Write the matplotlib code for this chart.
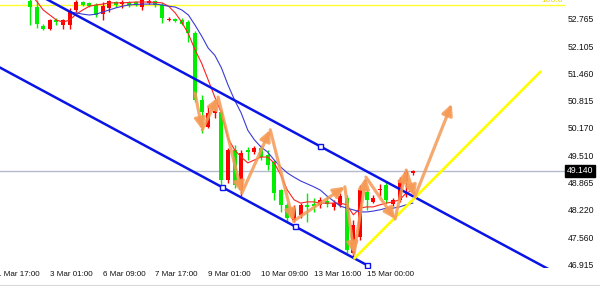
import numpy as np
import matplotlib.pyplot as plt

plt.rcParams['font.family'] = ['Liberation Sans', 'DejaVu Sans']

# H4 candles, bar 0 = first visible bar
opens = [53.20, 53.05, 52.60, 52.53, 52.74, 52.62, 52.62, 52.98, 53.17, 53.15,
         53.10, 52.88, 53.03, 53.17, 53.12, 53.17, 53.17, 53.05, 53.15, 53.19,
         53.10, 52.74, 52.76, 52.74, 52.69, 52.43, 50.83, 50.19, 50.52, 50.55,
         48.92, 49.64, 48.68, 49.64, 49.59, 49.69, 49.52, 49.35, 48.68, 48.33,
         47.97, 48.09, 48.33, 48.35, 48.33, 48.42, 48.28, 48.33, 48.49, 47.18,
         47.56, 48.64, 48.40, 48.68, 48.80, 48.35, 48.45, 48.90, 49.10]
highs = [53.30, 53.22, 52.64, 52.76, 52.79, 52.77, 53.03, 53.22, 53.20, 53.18,
         53.15, 53.17, 53.22, 53.20, 53.22, 53.20, 53.20, 53.25, 53.23, 53.22,
         53.15, 52.81, 52.79, 52.79, 52.74, 52.47, 50.95, 50.69, 50.64, 50.60,
         49.69, 49.76, 49.64, 49.71, 49.74, 49.76, 49.64, 49.40, 48.71, 48.38,
         48.33, 48.38, 48.61, 48.49, 48.52, 48.54, 48.45, 48.61, 48.56, 47.97,
         48.80, 48.73, 48.56, 48.83, 48.87, 48.49, 48.99, 49.16, 49.15]
lows = [52.62, 52.55, 52.50, 52.50, 52.62, 52.53, 52.53, 52.93, 53.07, 53.04,
        52.81, 52.74, 52.93, 53.06, 53.03, 53.06, 53.08, 52.98, 53.12, 53.05,
        52.67, 52.72, 52.69, 52.62, 52.22, 50.78, 50.04, 50.16, 50.40, 48.80,
        48.85, 48.73, 48.54, 49.40, 49.55, 49.40, 49.16, 48.45, 48.16, 47.92,
        47.92, 48.02, 47.92, 48.16, 48.25, 48.28, 48.21, 48.28, 47.18, 47.06,
        47.49, 48.21, 48.37, 48.54, 48.37, 48.30, 48.40, 48.52, 49.05]
closes = [53.05, 52.65, 52.53, 52.74, 52.69, 52.74, 52.95, 53.17, 53.10, 53.08,
          52.86, 53.08, 53.19, 53.10, 53.17, 53.10, 53.12, 53.21, 53.19, 53.10,
          52.79, 52.76, 52.72, 52.65, 52.43, 50.83, 50.55, 50.52, 50.57, 48.92,
          49.64, 48.80, 49.57, 49.59, 49.69, 49.47, 49.28, 48.61, 48.33, 48.02,
          48.25, 48.33, 48.28, 48.30, 48.45, 48.35, 48.37, 48.54, 47.25, 47.85,
          48.68, 48.45, 48.49, 48.71, 48.45, 48.45, 48.92, 49.11, 49.14]

# moving averages
ma_fast_start = 0
ma_fast = [53.35, 53.19, 52.98, 52.86, 52.74, 52.69, 52.74, 52.88, 52.98, 53.07,
           53.10, 53.12, 53.15, 53.15, 53.15, 53.16, 53.17, 53.17, 53.17, 53.16,
           53.15, 53.07, 52.91, 52.69, 52.41, 52.03, 51.71, 51.31, 50.90, 50.52,
           49.92, 49.64, 49.47, 49.33, 49.40, 49.47, 49.47, 49.33, 49.04, 48.68,
           48.45, 48.37, 48.40, 48.40, 48.37, 48.37, 48.37, 48.37, 48.33, 48.09,
           48.25, 48.28, 48.28, 48.33, 48.37, 48.40, 48.45, 48.61, 48.68]
ma_slow_start = 6
ma_slow = [52.93, 52.91, 52.88, 52.86, 52.88, 52.93, 52.98, 53.03, 53.07, 53.10,
           53.11, 53.12, 53.12, 53.12, 53.10, 53.07, 53.05, 52.98, 52.86, 52.62,
           52.36, 52.07, 51.90, 51.60, 51.19, 50.83, 50.52, 50.11, 49.88, 49.71,
           49.59, 49.40, 49.23, 49.09, 48.99, 48.90, 48.83, 48.76, 48.68, 48.54,
           48.42, 48.30, 48.25, 48.21, 48.16, 48.16, 48.18, 48.21, 48.25, 48.25,
           48.28, 48.33, 48.37]

# drawn objects (bar index, price)
chan_lower_x = [-4.6, 51.06]
chan_lower_y = [51.61, 46.89]
chan_upper_x = [-4.6, 81.1]
chan_upper_y = [53.84, 46.58]
chan_pts_x = [43.9, 29.1, 40.15, 51.06]
chan_pts_y = [49.73, 48.76, 47.82, 46.89]
trend_x = [49.2, 77.3]
trend_y = [47.06, 51.50]
zz_x = [25.0, 26.1, 28.5, 32.1, 36.4, 39.9, 47.7, 49.1, 50.9, 55.3, 57.0, 58.3, 63.9]
zz_y = [51.00, 50.12, 50.90, 48.61, 50.12, 47.94, 48.76, 47.16, 48.99, 47.99, 49.16, 48.52, 50.74]
fibo_level = 53.10
last_price = 49.14

price_ticks = [52.765, 52.105, 51.460, 50.815, 50.170, 49.510, 48.865, 48.220, 47.560, 46.915]
time_pos = [-5, 3, 11, 19, 27, 35, 43, 51]
time_labels = ['1 Mar 17:00', '3 Mar 01:00', '6 Mar 09:00', '7 Mar 17:00',
               '9 Mar 01:00', '10 Mar 09:00', '13 Mar 16:00', '15 Mar 00:00']

fig = plt.figure(figsize=(6, 2.86), dpi=100)
ax = fig.add_axes([0, 18 / 286, 565 / 600, 268 / 286])
ax.set_xlim(-4.545, 81.06)
ax.set_ylim(46.822, 53.218)
for s in ax.spines.values():
    s.set_visible(False)
ax.set_xticks([])

ax.axhline(last_price, color='#b4bccc', lw=1, zorder=1)
ax.axhline(fibo_level, color='#ffff30', lw=1, zorder=1)
ax.text(80.76, fibo_level + 0.03, '100.0', color='#e8d800', fontsize=6,
        ha='right', va='bottom', zorder=2)

# candles (red = up, green = down)
x = np.arange(len(opens))
o = np.array(opens)
c = np.array(closes)
up = c >= o
cols = np.where(up, '#ff0000', '#00ee00')
ax.vlines(x, lows, highs, colors=cols, lw=1, zorder=3)
body_lo = np.minimum(o, c)
body_h = np.maximum(np.abs(c - o), 0.024)
ax.bar(x, body_h, bottom=body_lo, width=0.6, color=cols, zorder=3)

# moving averages
ax.plot(np.arange(len(ma_fast)) + ma_fast_start, ma_fast, color='#ff2020', lw=0.8, zorder=4)
ax.plot(np.arange(len(ma_slow)) + ma_slow_start, ma_slow, color='#3a3ad8', lw=0.8, zorder=4)

# channel
ax.plot(chan_lower_x, chan_lower_y, color='#0a14e6', lw=1.8, zorder=5)
ax.plot(chan_upper_x, chan_upper_y, color='#0a14e6', lw=1.8, zorder=5)
ax.plot(chan_pts_x, chan_pts_y, 's', ms=3.6, mfc='white', mec='#0a14e6', mew=1, zorder=6)

# trend line
ax.plot(trend_x, trend_y, color='#ffff00', lw=1.9, zorder=5)

# zigzag arrows
for i in range(len(zz_x) - 1):
    ax.annotate('', xy=(zz_x[i + 1], zz_y[i + 1]), xytext=(zz_x[i], zz_y[i]),
                arrowprops=dict(arrowstyle='-|>,head_length=0.65,head_width=0.32',
                                color='#f59a55', lw=2.3, alpha=0.85,
                                shrinkA=0, shrinkB=0), zorder=7)

# right price axis
ax.yaxis.tick_right()
ax.set_yticks(price_ticks)
ax.set_yticklabels(['%.3f' % p for p in price_ticks])
ax.tick_params(axis='y', length=0, pad=2, labelsize=6.2, labelcolor='#111111')
ax.text(1 + 1.5 / 565, last_price, '49.140', transform=ax.get_yaxis_transform(),
        ha='left', va='center', fontsize=6.2, color='white',
        bbox=dict(facecolor='black', edgecolor='black', pad=1.3), clip_on=False)

# time labels
for p, lab in zip(time_pos, time_labels):
    ax.text(p, -7 / 268, lab, transform=ax.get_xaxis_transform(),
            ha='left', va='center', fontsize=5.8, color='#111111', clip_on=False)

fig.add_artist(plt.Line2D([0, 1], [0.002, 0.002], color='#d8d8d8', lw=0.8))

fig.savefig('out.png', dpi=100)
